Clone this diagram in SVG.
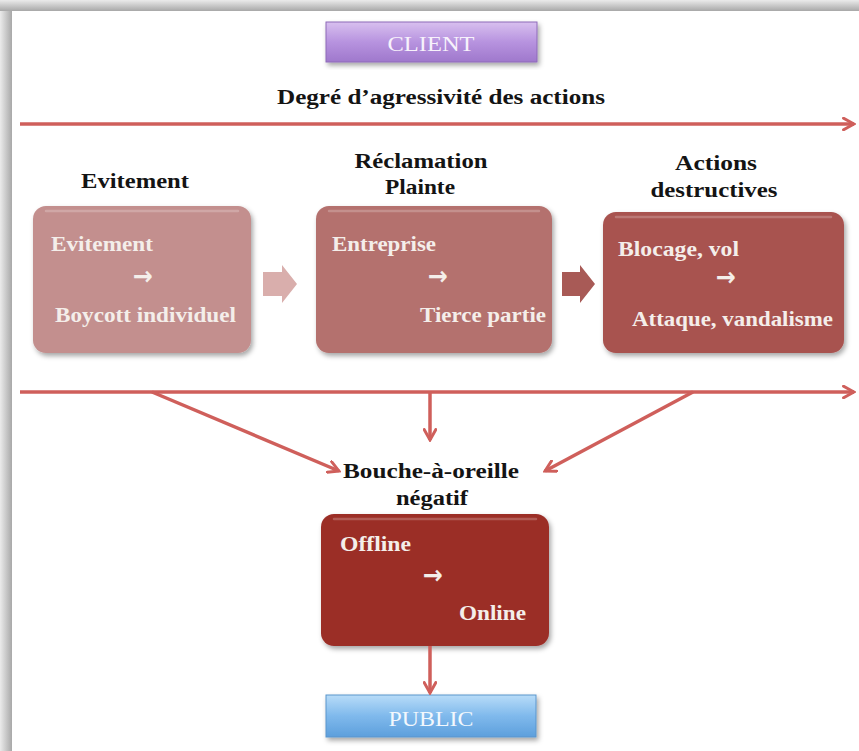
<svg xmlns="http://www.w3.org/2000/svg" width="859" height="751" viewBox="0 0 859 751">
<defs>
<style>
.h{font-family:"Liberation Serif","Times New Roman",serif;font-weight:bold;font-size:20px;fill:#141414}
.t{font-family:"Liberation Serif","Times New Roman",serif;font-weight:bold;font-size:21px;fill:#f4eeea}
.n{font-family:"Liberation Serif","Times New Roman",serif;font-weight:normal;font-size:22px}
.a{font-family:"DejaVu Sans",sans-serif;font-weight:bold;font-size:26px;fill:#f4eeea}
.c{fill:none;stroke:#cf5f5b;stroke-width:3.5}
.hl{fill:none;stroke:#ffffff;stroke-opacity:0.22;stroke-width:2.5;stroke-linecap:round}
</style>
<linearGradient id="fl" x1="0" y1="0" x2="1" y2="0"><stop offset="0" stop-color="#ebebeb"/><stop offset="1" stop-color="#a8a8a8"/></linearGradient>
<linearGradient id="ft" x1="0" y1="0" x2="0" y2="1"><stop offset="0" stop-color="#ebebeb"/><stop offset="1" stop-color="#a8a8a8"/></linearGradient>
<linearGradient id="gp" x1="0" y1="0" x2="0" y2="1"><stop offset="0" stop-color="#d8c0ef"/><stop offset="0.5" stop-color="#b793df"/><stop offset="1" stop-color="#9f78cc"/></linearGradient>
<linearGradient id="gb" x1="0" y1="0" x2="0" y2="1"><stop offset="0" stop-color="#b8dcf8"/><stop offset="0.5" stop-color="#7fb9ec"/><stop offset="1" stop-color="#5d9fdc"/></linearGradient>
<filter id="sh" x="-10%" y="-10%" width="125%" height="130%"><feDropShadow dx="2" dy="3" stdDeviation="2.5" flood-color="#000" flood-opacity="0.35"/></filter>
<marker id="ar" viewBox="0 0 12 12" refX="10" refY="6" markerWidth="14" markerHeight="14" markerUnits="userSpaceOnUse" orient="auto">
<path d="M1,1 L10,6 L1,11" fill="none" stroke="#cf5f5b" stroke-width="2.5" stroke-linecap="round"/>
</marker>
</defs>
<rect x="0" y="0" width="859" height="751" fill="#ffffff"/>
<rect x="0" y="0" width="12" height="751" fill="url(#fl)"/>
<rect x="0" y="0" width="859" height="11" fill="url(#ft)"/>
<rect x="12" y="11" width="847" height="740" fill="#ffffff"/>

<g id="client">
<rect x="326" y="22" width="211" height="40" fill="url(#gp)" stroke="#8e6bb8" stroke-width="1" filter="url(#sh)"/>
<text x="431" y="51" text-anchor="middle" class="n" fill="#f7f2fb" textLength="87" lengthAdjust="spacingAndGlyphs">CLIENT</text>
</g>

<g id="title">
<text x="441" y="104" text-anchor="middle" class="h" textLength="328" lengthAdjust="spacingAndGlyphs">Degré d’agressivité des actions</text>
</g>

<g id="heading-evitement">
<text x="135" y="188" text-anchor="middle" class="h" textLength="108" lengthAdjust="spacingAndGlyphs">Evitement</text>
</g>
<g id="heading-reclamation">
<text x="421" y="168" text-anchor="middle" class="h" textLength="133" lengthAdjust="spacingAndGlyphs">Réclamation</text>
<text x="420" y="194" text-anchor="middle" class="h" textLength="70" lengthAdjust="spacingAndGlyphs">Plainte</text>
</g>
<g id="heading-actions">
<text x="716" y="170" text-anchor="middle" class="h" textLength="82" lengthAdjust="spacingAndGlyphs">Actions</text>
<text x="714" y="197" text-anchor="middle" class="h" textLength="127" lengthAdjust="spacingAndGlyphs">destructives</text>
</g>

<g id="box-evitement">
<rect x="33" y="206" width="218" height="147" rx="13" fill="#c38f8e" filter="url(#sh)"/>
<path d="M46,211 H238" class="hl"/>
<text x="51" y="251" class="t" textLength="102" lengthAdjust="spacingAndGlyphs">Evitement</text>
<text x="133" y="285" class="a" textLength="20" lengthAdjust="spacingAndGlyphs">→</text>
<text x="55" y="322" class="t" textLength="181" lengthAdjust="spacingAndGlyphs">Boycott individuel</text>
</g>

<g id="box-reclamation">
<rect x="316" y="206" width="236" height="147" rx="13" fill="#b4716e" filter="url(#sh)"/>
<path d="M329,211 H539" class="hl"/>
<text x="332" y="251" class="t" textLength="104" lengthAdjust="spacingAndGlyphs">Entreprise</text>
<text x="428" y="285" class="a" textLength="20" lengthAdjust="spacingAndGlyphs">→</text>
<text x="420" y="322" class="t" textLength="126" lengthAdjust="spacingAndGlyphs">Tierce partie</text>
</g>

<g id="box-actions">
<rect x="603" y="212" width="241" height="141" rx="13" fill="#a8524f" filter="url(#sh)"/>
<path d="M616,217 H831" class="hl"/>
<text x="618" y="256" class="t" textLength="121" lengthAdjust="spacingAndGlyphs">Blocage, vol</text>
<text x="716" y="286" class="a" textLength="20" lengthAdjust="spacingAndGlyphs">→</text>
<text x="632" y="326" class="t" textLength="201" lengthAdjust="spacingAndGlyphs">Attaque, vandalisme</text>
</g>

<g id="heading-bouche">
<text x="431" y="478" text-anchor="middle" class="h" textLength="176" lengthAdjust="spacingAndGlyphs">Bouche-à-oreille</text>
<text x="432" y="505" text-anchor="middle" class="h" textLength="72" lengthAdjust="spacingAndGlyphs">négatif</text>
</g>

<g id="box-bouche">
<rect x="321" y="514" width="228" height="132" rx="13" fill="#9b2d28" filter="url(#sh)"/>
<path d="M334,519 H536" class="hl"/>
<text x="340" y="551" class="t" textLength="71" lengthAdjust="spacingAndGlyphs">Offline</text>
<text x="423" y="584" class="a" textLength="20" lengthAdjust="spacingAndGlyphs">→</text>
<text x="459" y="620" class="t" textLength="67" lengthAdjust="spacingAndGlyphs">Online</text>
</g>

<g id="public">
<rect x="326" y="695" width="210" height="42" fill="url(#gb)" stroke="#5a95cc" stroke-width="1" filter="url(#sh)"/>
<text x="431" y="726" text-anchor="middle" class="n" fill="#f3f8fd" textLength="85" lengthAdjust="spacingAndGlyphs">PUBLIC</text>
</g>

<g id="connectors">
<path d="M20,124 H854" class="c" marker-end="url(#ar)"/>
<path d="M263,272 H282 V265 L297,284 L282,303 V296 H263 Z" fill="#d9aeac"/>
<path d="M562,272 H580 V265 L595,284 L580,303 V296 H562 Z" fill="#a85a56"/>
<path d="M20,392 H854" class="c" marker-end="url(#ar)"/>
<path d="M152,392 L339,471" class="c" marker-end="url(#ar)"/>
<path d="M430,392 V440" class="c" marker-end="url(#ar)"/>
<path d="M693,392 L545,471" class="c" marker-end="url(#ar)"/>
<path d="M430,646 V693" class="c" marker-end="url(#ar)"/>
</g>
</svg>
